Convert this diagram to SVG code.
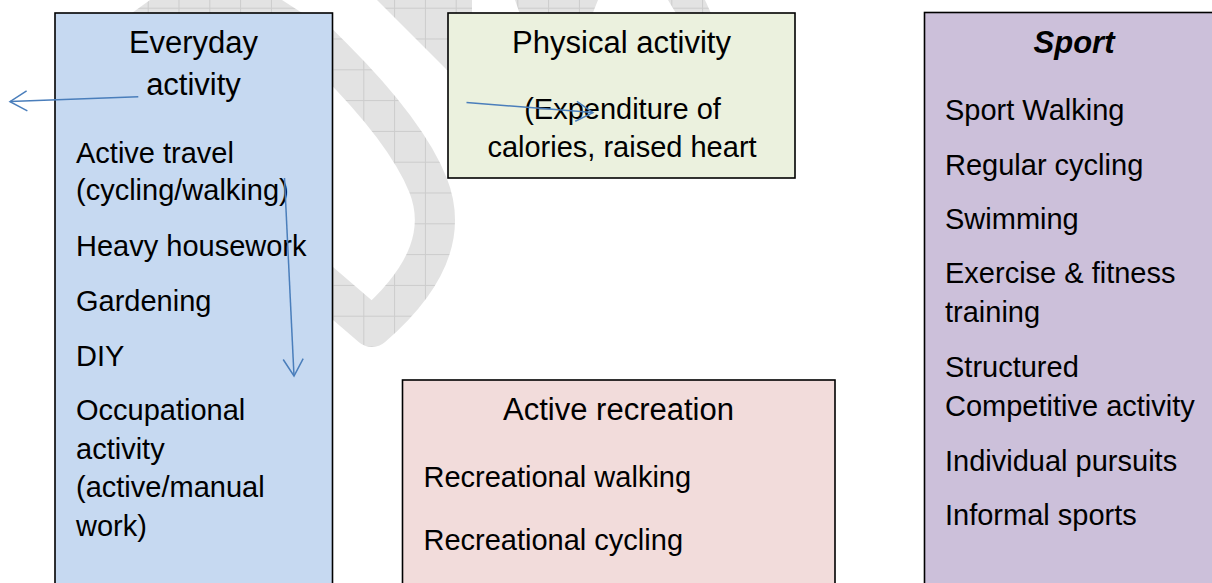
<svg xmlns="http://www.w3.org/2000/svg" width="1212" height="583" viewBox="0 0 1212 583">
<defs>
<style>
.t{font-family:"Liberation Sans",Arial,sans-serif;font-size:31px;fill:#000}
.b{font-family:"Liberation Sans",Arial,sans-serif;font-size:29px;fill:#000}
.box{stroke:#000;stroke-width:1.6}
.c{fill:none;stroke:#4a7ebb;stroke-width:1.5}
</style>
<pattern id="grid" patternUnits="userSpaceOnUse" x="24.5" y="7.7" width="30.8" height="30.8">
<rect width="30.8" height="30.8" fill="#e3e3e3"/>
<path d="M0.5,0 V30.8 M0,0.5 H30.8" stroke="#cccccc" stroke-width="1"/>
</pattern>
<marker id="ah" markerWidth="20" markerHeight="22" refX="18" refY="11" orient="auto" markerUnits="userSpaceOnUse" viewBox="0 0 20 22">
<path d="M1,1 L18,11 L1,21" fill="none" stroke="#4a7ebb" stroke-width="1.5"/>
</marker>
</defs>
<rect width="1212" height="583" fill="#fff"/>
<g id="watermark">
<polygon points="150,0 282,0 310,18 125,18" fill="url(#grid)"/>
<path d="M305,30 L333,58 C365,90 410,140 428,185 C445,228 432,275 372,327 L315,278" fill="none" stroke="url(#grid)" stroke-width="40" stroke-linejoin="round"/>
<polygon points="377,0 472,0 472,80 447,70" fill="url(#grid)"/>
<polygon points="515,0 598,0 590,20 522,20" fill="url(#grid)"/>
<polygon points="668,0 705,0 714,20 680,20" fill="url(#grid)"/>
</g>
<g id="everyday">
<rect class="box" x="55" y="13" width="277.5" height="600" fill="#c6d9f1"/>
<text class="t" x="193.5" y="53.3" text-anchor="middle">Everyday</text>
<text class="t" x="193.5" y="95" text-anchor="middle">activity</text>
<text class="b" x="76" y="163.3">Active travel</text>
<text class="b" x="76" y="200">(cycling/walking)</text>
<text class="b" x="76" y="255.5">Heavy housework</text>
<text class="b" x="76" y="310.5">Gardening</text>
<text class="b" x="76" y="365.5">DIY</text>
<text class="b" x="76" y="420">Occupational</text>
<text class="b" x="76" y="458.7">activity</text>
<text class="b" x="76" y="497.3">(active/manual</text>
<text class="b" x="76" y="536">work)</text>
</g>
<g id="physical">
<rect class="box" x="448" y="13" width="347" height="165" fill="#ebf1de"/>
<text class="t" x="621.5" y="53.3" text-anchor="middle">Physical activity</text>
<text class="b" x="622.5" y="119.3" text-anchor="middle">(Expenditure of</text>
<text class="b" x="622" y="156.7" text-anchor="middle">calories, raised heart</text>
</g>
<g id="recreation">
<rect class="box" x="402.5" y="380" width="432.5" height="250" fill="#f2dcdb"/>
<text class="t" x="618.5" y="420" text-anchor="middle">Active recreation</text>
<text class="b" x="423.5" y="486.7">Recreational walking</text>
<text class="b" x="423.5" y="550">Recreational cycling</text>
</g>
<g id="sport">
<rect class="box" x="924.5" y="12.5" width="300" height="600" fill="#ccc0da"/>
<text class="t" x="1074" y="53.3" text-anchor="middle" font-weight="bold" font-style="italic">Sport</text>
<text class="b" x="945" y="120">Sport Walking</text>
<text class="b" x="945" y="175">Regular cycling</text>
<text class="b" x="945" y="229">Swimming</text>
<text class="b" x="945" y="283">Exercise &amp; fitness</text>
<text class="b" x="945" y="322">training</text>
<text class="b" x="945" y="377">Structured</text>
<text class="b" x="945" y="416">Competitive activity</text>
<text class="b" x="945" y="471">Individual pursuits</text>
<text class="b" x="945" y="525">Informal sports</text>
</g>
<g id="connectors">
<line class="c" x1="138.3" y1="96.7" x2="10" y2="101.6" marker-end="url(#ah)"/>
<line class="c" x1="284.5" y1="178" x2="294" y2="376" marker-end="url(#ah)"/>
<line class="c" x1="466.5" y1="102.5" x2="593" y2="112.6" marker-end="url(#ah)"/>
</g>
</svg>
